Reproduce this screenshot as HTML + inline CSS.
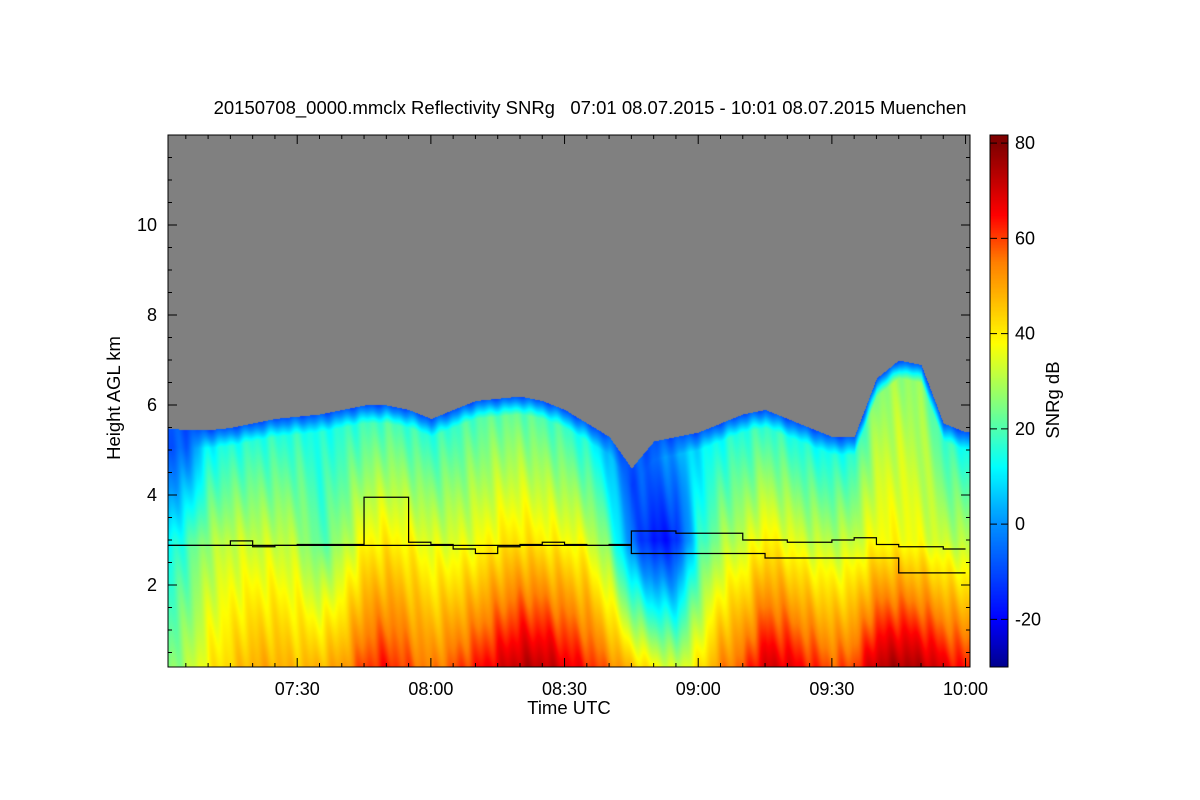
<!DOCTYPE html>
<html><head><meta charset="utf-8"><style>
body{margin:0;background:#fff;width:1200px;height:800px;overflow:hidden;font-family:"Liberation Sans",sans-serif}
#wrap{position:relative;width:1200px;height:800px}
canvas{position:absolute;left:0;top:0}
svg{position:absolute;left:0;top:0}
</style></head><body>
<div id="wrap">
<canvas id="cv" width="1200" height="800"></canvas>
<svg id="sv" width="1200" height="800"></svg>
</div>
<script>
// data (5-minute bins from 07:00 to 10:00)
const times = [0,5,10,15,20,25,30,35,40,45,50,55,60,65,70,75,80,85,90,95,100,105,110,115,120,125,130,135,140,145,150,155,160,165,170,175,180];
const cloudTop = [5.5,5.45,5.45,5.5,5.6,5.7,5.75,5.8,5.9,6.0,6.0,5.9,5.7,5.9,6.1,6.15,6.2,6.1,5.9,5.6,5.3,4.6,5.2,5.3,5.4,5.6,5.8,5.9,5.7,5.5,5.3,5.3,6.6,7.0,6.9,5.6,5.4];
const snrSurface = [25,30,40,45,50,50,48,50,52,62,65,60,55,60,65,70,75,75,70,65,58,50,42,35,42,55,60,72,70,65,60,62,75,78,76,70,65];
const snrMid = [10,18,28,32,32,32,30,20,28,38,40,38,34,34,36,40,42,40,38,35,22,-5,-18,-15,15,28,32,40,36,32,30,32,38,38,36,32,30];
const snrUpper = [-10,-6,12,15,16,16,16,14,16,18,20,18,16,18,20,22,22,20,18,14,5,-10,-5,2,10,14,16,18,16,14,14,16,26,28,26,18,14];
const lineA = [2.88,2.88,2.88,2.98,2.85,2.88,2.9,2.9,2.9,3.95,3.95,2.95,2.9,2.8,2.7,2.85,2.9,2.95,2.9,2.88,2.9,3.2,3.2,3.15,3.15,3.15,3.0,3.0,2.95,2.95,3.0,3.05,2.9,2.85,2.85,2.8,2.85];
const lineB = [2.88,2.88,2.88,2.88,2.88,2.88,2.88,2.88,2.88,2.88,2.88,2.88,2.88,2.88,2.88,2.88,2.88,2.88,2.88,2.88,2.88,2.7,2.7,2.7,2.7,2.7,2.7,2.6,2.6,2.6,2.6,2.6,2.6,2.27,2.27,2.27,2.27];
const xTickMin = [30,60,90,120,150,180];
const xTickLabels = ["07:30","08:00","08:30","09:00","09:30","10:00"];
const yTicks = [2,4,6,8,10];
const cbTicks = [-20,0,20,40,60,80];

const PL=168,PR=970,PT=135,PB=667;
const T0=1,T1=181;
const X=t=>PL+(t-T0)/(T1-T0)*(PR-PL);
const Y=h=>675-h*45;
const CB0=-30,CB1=81.7;
const CY=v=>667-(v-CB0)/(CB1-CB0)*(667-135);
const stops=[[-30,[0,0,140]],[-20,[0,0,255]],[0,[0,144,255]],[12,[0,255,255]],[25,[128,255,128]],[38,[255,255,0]],[55,[255,128,0]],[65,[255,0,0]],[80,[128,0,0]]];
function cmap(v){if(v<=stops[0][0])return stops[0][1];for(let i=1;i<stops.length;i++){if(v<=stops[i][0]){const a=stops[i-1],b=stops[i],f=(v-a[0])/(b[0]-a[0]);return a[1].map((c,k)=>Math.round(c+(b[1][k]-c)*f));}}return stops[stops.length-1][1];}
function interp(arr,t){const i=Math.max(0,Math.min(times.length-2,Math.floor(t/5)));const f=Math.max(0,Math.min(1,(t-times[i])/5));return arr[i]+(arr[i+1]-arr[i])*f;}

const cv=document.getElementById('cv'),ctx=cv.getContext('2d');
const img=ctx.createImageData(PR-PL,PB-PT);
for(let x=0;x<PR-PL;x++){
  const t=T0+x/(PR-PL)*(T1-T0);
  const top=interp(cloudTop,t),s0=interp(snrSurface,t),sm=interp(snrMid,t),su=interp(snrUpper,t);
  for(let y=0;y<PB-PT;y++){
    const h=(675-(PT+y))/45;let c;
    if(h>top)c=[128,128,128];
    else{let v;
      if(h<3)v=s0+(sm-s0)*(h/3);
      else if(h<top-0.4)v=sm+(su-sm)*((h-3)/Math.max(0.1,top-3.4));
      else v=su+(-8-su)*((h-(top-0.4))/0.4);
      v+=3*Math.sin(x*0.37+h*2)*Math.sin(x*0.11);c=cmap(v);}
    const o=(y*(PR-PL)+x)*4;img.data[o]=c[0];img.data[o+1]=c[1];img.data[o+2]=c[2];img.data[o+3]=255;
  }
}
ctx.putImageData(img,PL,PT);
for(let y=135;y<667;y++){const c=cmap(CB0+(667-y)/(667-135)*(CB1-CB0));ctx.fillStyle=`rgb(${c})`;ctx.fillRect(990,y,18,1);}

const sv=document.getElementById('sv');const NS='http://www.w3.org/2000/svg';
function el(tag,attrs,txt){const e=document.createElementNS(NS,tag);for(const k in attrs)e.setAttribute(k,attrs[k]);if(txt!==undefined)e.textContent=txt;sv.appendChild(e);return e;}
function stepPath(arr){let d='';for(let i=0;i<times.length-1;i++){const x0=X(Math.max(T0,times[i])),x1=X(Math.min(T1,times[i+1]));d+=(i?'L':'M')+x0+','+Y(arr[i])+'L'+x1+','+Y(arr[i]);}return d;}
let p=el('path',{d:stepPath(lineB),fill:'none',stroke:'#000','stroke-width':1.2});


p=el('path',{d:stepPath(lineA),fill:'none',stroke:'#000','stroke-width':1.2});


let r=el('rect',{x:PL,y:PT,width:PR-PL,height:PB-PT,fill:'none',stroke:'#000'});


r=el('rect',{x:990,y:135,width:18,height:532,fill:'none',stroke:'#000'});


for(let m=5;m<=180;m+=5){const x=X(m);const L=(m%30==0)?9:4;el('line',{x1:x,y1:PB,x2:x,y2:PB-L,stroke:'#000'});el('line',{x1:x,y1:PT,x2:x,y2:PT+L,stroke:'#000'});}
xTickMin.forEach((m,i)=>{const t=el('text',{x:X(m),y:695,'text-anchor':'middle','font-size':18},xTickLabels[i]);

});
for(let h=0.5;h<12;h+=0.5){const y=Y(h);if(y<PT||y>PB)continue;const L=(h%2==0)?9:4;el('line',{x1:PL,y1:y,x2:PL+L,y2:y,stroke:'#000'});el('line',{x1:PR,y1:y,x2:PR-L,y2:y,stroke:'#000'});}
yTicks.forEach(h=>{const t=el('text',{x:157,y:Y(h)+6,'text-anchor':'end','font-size':18},String(h));

});
cbTicks.forEach(v=>{const y=CY(v);el('line',{x1:1008,y1:y,x2:1001,y2:y,stroke:'#000'});el('line',{x1:990,y1:y,x2:997,y2:y,stroke:'#000'});
const t=el('text',{x:1015,y:y+6,'font-size':18},String(v));

});
let t=el('text',{x:590,y:114,'text-anchor':'middle','font-size':18.5},'20150708_0000.mmclx Reflectivity SNRg   07:01 08.07.2015 - 10:01 08.07.2015 Muenchen');


t.setAttribute('xml:space','preserve');t.style.whiteSpace='pre';
t=el('text',{x:569,y:714,'text-anchor':'middle','font-size':18.5},'Time UTC');


t=el('text',{x:120,y:398,'text-anchor':'middle','font-size':18.5,transform:'rotate(-90 120 398)'},'Height AGL km');


t=el('text',{x:1059,y:400,'text-anchor':'middle','font-size':18.5,transform:'rotate(-90 1059 400)'},'SNRg dB');


</script>
</body></html>
